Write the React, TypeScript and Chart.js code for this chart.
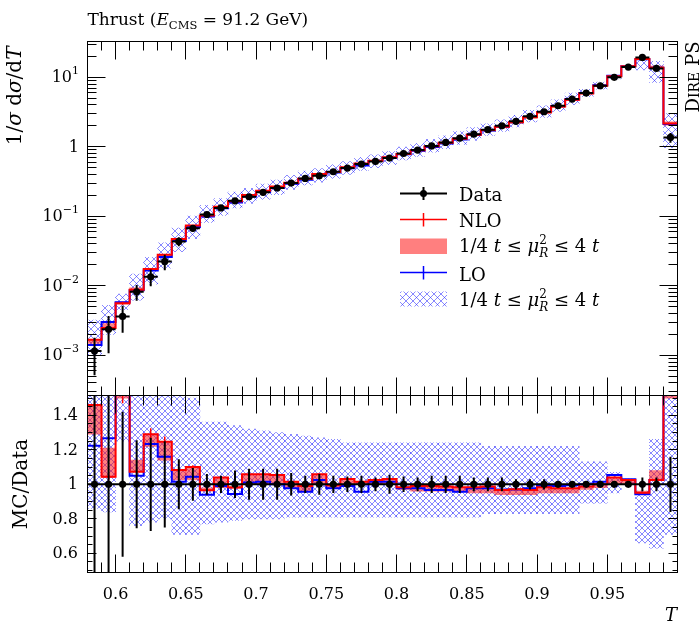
import React, { useEffect, useRef } from 'react';
import { Chart, registerables } from 'chart.js';

Chart.register(...registerables);

// ---- Thrust distribution, E_CMS = 91.2 GeV ----
const binEdges = [
  0.58, 0.59, 0.6, 0.61, 0.62, 0.63, 0.64, 0.65, 0.66, 0.67, 0.68, 0.69, 0.7, 0.71,
  0.72, 0.73, 0.74, 0.75, 0.76, 0.77, 0.78, 0.79, 0.8, 0.81, 0.82, 0.83, 0.84, 0.85,
  0.86, 0.87, 0.88, 0.89, 0.9, 0.91, 0.92, 0.93, 0.94, 0.95, 0.96, 0.97, 0.98, 0.99, 1.0,
];

// measured 1/sigma dsigma/dT
const dataValues = [
  0.00115, 0.00237, 0.00363, 0.0082, 0.0135, 0.0224, 0.0435, 0.067, 0.106, 0.132,
  0.167, 0.191, 0.221, 0.255, 0.3, 0.35, 0.383, 0.437, 0.494, 0.564,
  0.616, 0.687, 0.8, 0.897, 1.03, 1.156, 1.33, 1.52, 1.76, 2.0,
  2.32, 2.74, 3.19, 3.89, 4.85, 5.93, 7.55, 9.97, 14.0, 19.3,
  13.4, 1.365,
];
// relative uncertainty of the measurement
const dataRelErr = [
  0.55, 0.55, 0.42, 0.255, 0.27, 0.25, 0.145, 0.095, 0.06, 0.05,
  0.08, 0.09, 0.09, 0.09, 0.065, 0.05, 0.06, 0.05, 0.045, 0.05,
  0.04, 0.055, 0.045, 0.04, 0.05, 0.05, 0.05, 0.04, 0.04, 0.04,
  0.03, 0.03, 0.03, 0.015, 0.01, 0.015, 0.01, 0.01, 0.01, 0.04,
  0.04, 0.16,
];

// NLO prediction relative to data, with its 1/4 t <= mu_R^2 <= 4 t envelope
const nloRatio = [
  1.46, 1.044, 1.55, 1.073, 1.29, 1.247, 1.083, 1.1, 0.965, 1.04,
  0.983, 1.058, 1.058, 1.054, 1.015, 0.99, 1.058, 0.995, 1.031, 1.015,
  1.025, 1.031, 0.983, 0.99, 0.99, 0.987, 0.983, 0.983, 0.987, 0.967,
  0.971, 0.967, 0.983, 0.977, 0.977, 0.987, 1.0, 1.04, 1.025, 0.951,
  1.025, 1.59,
];
const nloBandLow = [
  1.29, 1.04, 1.5, 1.073, 1.22, 1.14, 1.025, 1.025, 0.965, 0.98,
  0.975, 1.0, 1.0, 1.0, 0.975, 0.96, 1.0, 0.98, 1.0, 1.0,
  1.0, 1.0, 0.97, 0.96, 0.96, 0.96, 0.96, 0.95, 0.95, 0.94,
  0.94, 0.94, 0.95, 0.95, 0.95, 0.97, 0.98, 1.0, 1.0, 0.945,
  1.025, 1.5,
];
const nloBandHigh = [
  1.46, 1.21, 1.62, 1.14, 1.29, 1.247, 1.083, 1.1, 0.98, 1.04,
  0.983, 1.058, 1.058, 1.054, 1.015, 0.99, 1.058, 0.995, 1.031, 1.015,
  1.025, 1.031, 0.983, 0.99, 0.99, 0.987, 0.983, 0.983, 0.987, 0.967,
  0.971, 0.967, 0.983, 0.977, 0.977, 0.987, 1.0, 1.04, 1.025, 0.96,
  1.08, 1.68,
];
const nloStatErr = [
  0.02, 0.02, 0.08, 0.015, 0.035, 0.03, 0.015, 0.01, 0.008, 0.008,
  0.006, 0.006, 0.006, 0.006, 0.005, 0.005, 0.005, 0.005, 0.005, 0.005,
  0.005, 0.005, 0.005, 0.005, 0.005, 0.005, 0.005, 0.005, 0.005, 0.005,
  0.005, 0.005, 0.005, 0.005, 0.005, 0.005, 0.005, 0.005, 0.005, 0.005,
  0.005, 0.01,
];

// LO prediction relative to data, with its scale envelope
const loRatio = [
  1.224, 1.267, 1.6, 1.05, 1.234, 1.16, 1.015, 1.044, 0.94, 0.99,
  0.944, 1.01, 1.015, 1.0, 0.977, 0.957, 1.025, 0.977, 0.99, 0.957,
  1.015, 1.015, 0.977, 0.977, 0.967, 0.967, 0.957, 0.977, 0.977, 0.97,
  0.97, 0.977, 0.99, 0.99, 0.995, 1.0, 1.015, 1.054, 1.03, 0.942,
  1.025, 1.56,
];
const loBandLow = [
  0.86, 0.84, 1.25, 0.76, 0.78, 0.8, 0.71, 0.71, 0.77, 0.78,
  0.79, 0.8, 0.8, 0.8, 0.81, 0.81, 0.81, 0.81, 0.81, 0.81,
  0.81, 0.81, 0.81, 0.81, 0.81, 0.81, 0.81, 0.81, 0.83, 0.83,
  0.83, 0.83, 0.83, 0.83, 0.83, 0.89, 0.89, 0.95, 1.0, 0.66,
  0.63, 0.71,
];
const loBandHigh = [
  2.8, 2.2, 2.1, 1.8, 1.9, 1.85, 1.55, 1.5, 1.36, 1.36,
  1.34, 1.32, 1.31, 1.3, 1.29, 1.28, 1.27, 1.26, 1.24, 1.24,
  1.24, 1.24, 1.24, 1.24, 1.24, 1.24, 1.24, 1.24, 1.22, 1.22,
  1.22, 1.22, 1.22, 1.22, 1.22, 1.13, 1.13, 1.07, 1.03, 0.96,
  1.26, 2.2,
];

// axis ticks and labels
const xMajorTicks = [0.6, 0.65, 0.7, 0.75, 0.8, 0.85, 0.9, 0.95];
const xTickLabels = ['0.6', '0.65', '0.7', '0.75', '0.8', '0.85', '0.9', '0.95'];
const mainTickValues = [1e-3, 1e-2, 1e-1, 1, 10];
const mainTickExponents = ['−3', '−2', '−1', '', '1'];
const ratioTickValues = [0.6, 0.8, 1.0, 1.2, 1.4];
const ratioTickLabels = ['0.6', '0.8', '1', '1.2', '1.4'];

const mainRange = [2.64e-4, 32.7];
const ratioRange = [0.4887, 1.5148];

// ---- page geometry ----
const W = 700;
const H = 632;
const PLOT_L = 87.5;
const PLOT_R = 677.5;
const MAIN_T = 41.5;
const MAIN_B = 395.5;
const RATIO_B = 572.5;

const FAMILY = '"DejaVu Serif", "Liberation Serif", serif';
const RED = '#ff0000';
const RED_FILL = 'rgba(255,0,0,0.5)';
const BLUE = '#0000ff';
const HATCH_COLOR = 'rgba(40,40,255,0.55)';

const centres = binEdges.slice(0, -1).map((e, i) => (e + binEdges[i + 1]) / 2);

function steps(vals: number[]) {
  const pts: any[] = [];
  vals.forEach((v, i) => {
    pts.push({ x: binEdges[i], y: v }, { x: binEdges[i + 1], y: v });
  });
  return pts;
}
function verticalBars(lo: number[], hi: number[]) {
  const pts: any[] = [];
  lo.forEach((l, i) => {
    pts.push({ x: centres[i], y: l }, { x: centres[i], y: hi[i] }, { x: centres[i], y: null });
  });
  return pts;
}
function horizontalBars(vals: number[]) {
  const pts: any[] = [];
  vals.forEach((v, i) => {
    pts.push({ x: binEdges[i], y: v }, { x: binEdges[i + 1], y: v }, { x: binEdges[i + 1], y: null });
  });
  return pts;
}
function band(lo: number[], hi: number[]) {
  return lo.map((l, i) => ({ x: centres[i], y: [l, hi[i]] }));
}
function times(a: number[], b: number[]) {
  return a.map((v, i) => v * b[i]);
}

function makeHatch(size: number) {
  const c = document.createElement('canvas');
  c.width = size;
  c.height = size;
  const g = c.getContext('2d')!;
  g.strokeStyle = HATCH_COLOR;
  g.lineWidth = 1;
  g.beginPath();
  g.moveTo(-1, -1);
  g.lineTo(size + 1, size + 1);
  g.moveTo(size + 1, -1);
  g.lineTo(-1, size + 1);
  g.stroke();
  return g.createPattern(c, 'repeat');
}

type Run = { t: string; size: number; italic?: boolean; dy?: number; noAdvance?: boolean };
function fontOf(size: number, italic?: boolean) {
  return `${italic ? 'italic ' : ''}${size}px ${FAMILY}`;
}
function runsWidth(ctx: CanvasRenderingContext2D, runs: Run[]) {
  let w = 0;
  for (const r of runs) {
    ctx.font = fontOf(r.size, r.italic);
    if (!r.noAdvance) w += ctx.measureText(r.t).width;
  }
  return w;
}
function drawRuns(ctx: CanvasRenderingContext2D, x: number, y: number, runs: Run[]) {
  let cx = x;
  for (const r of runs) {
    ctx.font = fontOf(r.size, r.italic);
    ctx.fillText(r.t, cx, y + (r.dy || 0));
    if (!r.noAdvance) cx += ctx.measureText(r.t).width;
  }
}
function line(ctx: CanvasRenderingContext2D, x1: number, y1: number, x2: number, y2: number) {
  ctx.beginPath();
  ctx.moveTo(x1, y1);
  ctx.lineTo(x2, y2);
  ctx.stroke();
}
const snap = (v: number) => Math.round(v - 0.5) + 0.5;

function drawFrameAndXTicks(ctx: CanvasRenderingContext2D, chart: any, majorLen: number, minorLen: number) {
  const a = chart.chartArea;
  const xs = chart.scales.x;
  ctx.strokeStyle = '#000';
  ctx.lineWidth = 1;
  ctx.strokeRect(snap(a.left), snap(a.top), snap(a.right) - snap(a.left), snap(a.bottom) - snap(a.top));
  for (let k = 59; k <= 99; k++) {
    const v = k / 100;
    const major = xMajorTicks.some((t) => Math.abs(t - v) < 1e-9);
    const len = major ? majorLen : minorLen;
    const px = snap(xs.getPixelForValue(v));
    line(ctx, px, a.top, px, a.top + len);
    line(ctx, px, a.bottom, px, a.bottom - len);
  }
}

const bandLabel: Run[] = [
  { t: '1/4 ', size: 18 },
  { t: 't', size: 18, italic: true },
  { t: ' ≤ ', size: 18 },
  { t: 'μ', size: 18, italic: true },
  { t: '2', size: 12, dy: -8, noAdvance: true },
  { t: 'R', size: 12, italic: true, dy: 5 },
  { t: ' ≤ 4 ', size: 18 },
  { t: 't', size: 18, italic: true },
];

function mainDecorations(hatch: any) {
  return {
    id: 'mainDecorations',
    afterDraw(chart: any) {
      const ctx: CanvasRenderingContext2D = chart.ctx;
      const a = chart.chartArea;
      const ys = chart.scales.y;
      ctx.save();
      drawFrameAndXTicks(ctx, chart, 18, 9);
      // log-axis ticks on both sides
      for (let e = -4; e <= 1; e++) {
        for (let m = 1; m <= 9; m++) {
          const v = m * Math.pow(10, e);
          if (v < ys.min || v > ys.max) continue;
          const py = snap(ys.getPixelForValue(v));
          const len = m === 1 ? 18 : 9;
          line(ctx, a.left, py, a.left + len, py);
          line(ctx, a.right, py, a.right - len, py);
        }
      }
      // tick labels
      ctx.fillStyle = '#000';
      ctx.textBaseline = 'middle';
      mainTickValues.forEach((v, i) => {
        const py = ys.getPixelForValue(v) + 1;
        const exp = mainTickExponents[i];
        const runs: Run[] = exp
          ? [{ t: '10', size: 16 }, { t: exp, size: 11, dy: -7 }]
          : [{ t: '1', size: 16 }];
        const w = runsWidth(ctx, runs);
        drawRuns(ctx, 79 - w, py, runs);
      });
      ctx.textBaseline = 'alphabetic';

      // title
      drawRuns(ctx, 87.5, 25, [
        { t: 'Thrust (', size: 17 },
        { t: 'E', size: 17, italic: true },
        { t: 'CMS', size: 11.5, dy: 4 },
        { t: ' = 91.2 GeV)', size: 17 },
      ]);

      // y axis title
      const yl: Run[] = [
        { t: '1/', size: 20 },
        { t: 'σ', size: 20, italic: true },
        { t: ' d', size: 20 },
        { t: 'σ', size: 20, italic: true },
        { t: '/d', size: 20 },
        { t: 'T', size: 20, italic: true },
      ];
      ctx.save();
      ctx.translate(21, 46.5);
      ctx.rotate(-Math.PI / 2);
      drawRuns(ctx, -runsWidth(ctx, yl), 0, yl);
      ctx.restore();

      // generator tag on the right
      const tag: Run[] = [
        { t: 'D', size: 18 },
        { t: 'IRE', size: 14 },
        { t: ' PS', size: 18 },
      ];
      ctx.save();
      ctx.translate(699, 41.5);
      ctx.rotate(-Math.PI / 2);
      drawRuns(ctx, -runsWidth(ctx, tag), 0, tag);
      ctx.restore();

      // legend
      const x0 = 400;
      const x1 = 447;
      const xm = (x0 + x1) / 2;
      const tx = 459;
      ctx.lineWidth = 2;
      ctx.strokeStyle = '#000';
      line(ctx, x0, 193.5, x1, 193.5);
      line(ctx, xm, 187, xm, 200);
      ctx.beginPath();
      ctx.arc(xm, 193.5, 3.5, 0, Math.PI * 2);
      ctx.fill();
      ctx.lineWidth = 1.5;
      ctx.strokeStyle = RED;
      line(ctx, x0, 219.5, x1, 219.5);
      line(ctx, xm, 213, xm, 226.5);
      ctx.fillStyle = RED_FILL;
      ctx.fillRect(x0, 238.5, x1 - x0, 15.5);
      ctx.strokeStyle = BLUE;
      line(ctx, x0, 272.5, x1, 272.5);
      line(ctx, xm, 266, xm, 279.5);
      ctx.fillStyle = hatch;
      ctx.fillRect(x0, 291.5, x1 - x0, 15);
      ctx.fillStyle = '#000';
      drawRuns(ctx, tx, 200.7, [{ t: 'Data', size: 18 }]);
      drawRuns(ctx, tx, 227, [{ t: 'NLO', size: 18 }]);
      drawRuns(ctx, tx, 251.7, bandLabel);
      drawRuns(ctx, tx, 280.7, [{ t: 'LO', size: 18 }]);
      drawRuns(ctx, tx, 305.5, bandLabel);
      ctx.restore();
    },
  };
}

const ratioDecorations = {
  id: 'ratioDecorations',
  afterDraw(chart: any) {
    const ctx: CanvasRenderingContext2D = chart.ctx;
    const a = chart.chartArea;
    const xs = chart.scales.x;
    const ys = chart.scales.y;
    ctx.save();
    drawFrameAndXTicks(ctx, chart, 18, 10);
    for (let k = 10; k <= 30; k++) {
      const v = k * 0.05;
      if (v < ys.min || v > ys.max) continue;
      const py = snap(ys.getPixelForValue(v));
      const len = k % 4 === 0 ? 9 : 5;
      line(ctx, a.left, py, a.left + len, py);
      line(ctx, a.right, py, a.right - len, py);
    }
    ctx.fillStyle = '#000';
    ctx.textBaseline = 'middle';
    ratioTickValues.forEach((v, i) => {
      ctx.font = fontOf(16);
      const t = ratioTickLabels[i];
      ctx.fillText(t, 78 - ctx.measureText(t).width, ys.getPixelForValue(v) + 1);
    });
    ctx.textBaseline = 'alphabetic';
    ctx.textAlign = 'center';
    xMajorTicks.forEach((v, i) => {
      ctx.font = fontOf(16);
      ctx.fillText(xTickLabels[i], xs.getPixelForValue(v), 599);
    });
    ctx.textAlign = 'left';
    // axis titles
    ctx.font = fontOf(18, true);
    ctx.fillText('T', 677 - ctx.measureText('T').width, 621);
    const rl: Run[] = [{ t: 'MC/Data', size: 20 }];
    ctx.save();
    ctx.translate(27, (MAIN_B + RATIO_B) / 2);
    ctx.rotate(-Math.PI / 2);
    drawRuns(ctx, -runsWidth(ctx, rl) / 2, 0, rl);
    ctx.restore();
    ctx.restore();
  },
};

function datasetsFor(
  data: number[],
  dataLo: number[],
  dataHi: number[],
  nlo: number[],
  nloLo: number[],
  nloHi: number[],
  nloErrLo: number[],
  nloErrHi: number[],
  lo: number[],
  loLo: number[],
  loHi: number[],
  hatch: any,
) {
  const lineBase = { type: 'line', pointRadius: 0, fill: false, tension: 0, spanGaps: false };
  const barBase = { type: 'bar', grouped: false, barPercentage: 1, categoryPercentage: 1, borderWidth: 0 };
  return [
    {
      type: 'line',
      label: 'Data',
      data: centres.map((c, i) => ({ x: c, y: data[i] })),
      showLine: false,
      pointRadius: 3.6,
      pointBorderWidth: 0,
      pointBackgroundColor: '#000',
      order: 0,
    },
    { ...lineBase, label: 'Data err', data: verticalBars(dataLo, dataHi), borderColor: '#000', borderWidth: 2, order: 1 },
    { ...lineBase, label: 'Data bins', data: horizontalBars(data), borderColor: '#000', borderWidth: 2, order: 1 },
    { ...lineBase, label: 'NLO', data: steps(nlo), borderColor: RED, borderWidth: 2, order: 2 },
    { ...lineBase, label: 'NLO stat', data: verticalBars(nloErrLo, nloErrHi), borderColor: RED, borderWidth: 1.5, order: 2 },
    { ...lineBase, label: 'LO', data: steps(lo), borderColor: BLUE, borderWidth: 2, order: 3 },
    { ...barBase, label: 'NLO scale', data: band(nloLo, nloHi), backgroundColor: RED_FILL, order: 4 },
    { ...barBase, label: 'LO scale', data: band(loLo, loHi), backgroundColor: hatch, order: 5 },
  ];
}

function baseOptions(top: number, bottom: number, yScale: any) {
  return {
    animation: false,
    responsive: false,
    devicePixelRatio: 1,
    events: [],
    layout: { autoPadding: false, padding: { left: PLOT_L, right: W - PLOT_R, top, bottom: H - bottom } },
    plugins: { legend: { display: false }, tooltip: { enabled: false }, title: { display: false } },
    scales: {
      x: {
        type: 'linear',
        min: binEdges[0],
        max: binEdges[binEdges.length - 1],
        offset: false,
        display: false,
        ticks: { stepSize: 0.01 },
      },
      y: yScale,
    },
  };
}

export default function App() {
  const mainRef = useRef<HTMLCanvasElement>(null);
  const ratioRef = useRef<HTMLCanvasElement>(null);

  useEffect(() => {
    const hatchMain = makeHatch(7);
    const hatchRatio = makeHatch(6);

    const nloMain = times(dataValues, nloRatio);
    const loMain = times(dataValues, loRatio);
    const ones = dataValues.map(() => 1);
    const dataLoR = dataRelErr.map((e) => 1 - e);
    const dataHiR = dataRelErr.map((e) => 1 + e);
    const nloErrLoR = nloRatio.map((r, i) => r - nloStatErr[i]);
    const nloErrHiR = nloRatio.map((r, i) => r + nloStatErr[i]);

    const mainChart = new Chart(mainRef.current!, {
      type: 'line',
      data: {
        datasets: datasetsFor(
          dataValues,
          times(dataValues, dataLoR),
          times(dataValues, dataHiR),
          nloMain,
          times(dataValues, nloBandLow),
          times(dataValues, nloBandHigh),
          times(dataValues, nloErrLoR),
          times(dataValues, nloErrHiR),
          loMain,
          times(dataValues, loBandLow),
          times(dataValues, loBandHigh),
          hatchMain,
        ) as any,
      },
      options: baseOptions(MAIN_T, MAIN_B, {
        type: 'logarithmic',
        min: mainRange[0],
        max: mainRange[1],
        display: false,
      }) as any,
      plugins: [mainDecorations(hatchMain)],
    });

    const ratioChart = new Chart(ratioRef.current!, {
      type: 'line',
      data: {
        datasets: datasetsFor(
          ones,
          dataLoR,
          dataHiR,
          nloRatio,
          nloBandLow,
          nloBandHigh,
          nloErrLoR,
          nloErrHiR,
          loRatio,
          loBandLow,
          loBandHigh,
          hatchRatio,
        ) as any,
      },
      options: baseOptions(MAIN_B, RATIO_B, {
        type: 'linear',
        min: ratioRange[0],
        max: ratioRange[1],
        display: false,
      }) as any,
      plugins: [ratioDecorations],
    });

    return () => {
      mainChart.destroy();
      ratioChart.destroy();
    };
  }, []);

  const canvasStyle: React.CSSProperties = { position: 'absolute', left: 0, top: 0 };
  return (
    <div style={{ position: 'fixed', left: 0, top: 0, width: W, height: H, background: '#fff' }}>
      <canvas ref={mainRef} width={W} height={H} style={canvasStyle} />
      <canvas ref={ratioRef} width={W} height={H} style={canvasStyle} />
    </div>
  );
}
